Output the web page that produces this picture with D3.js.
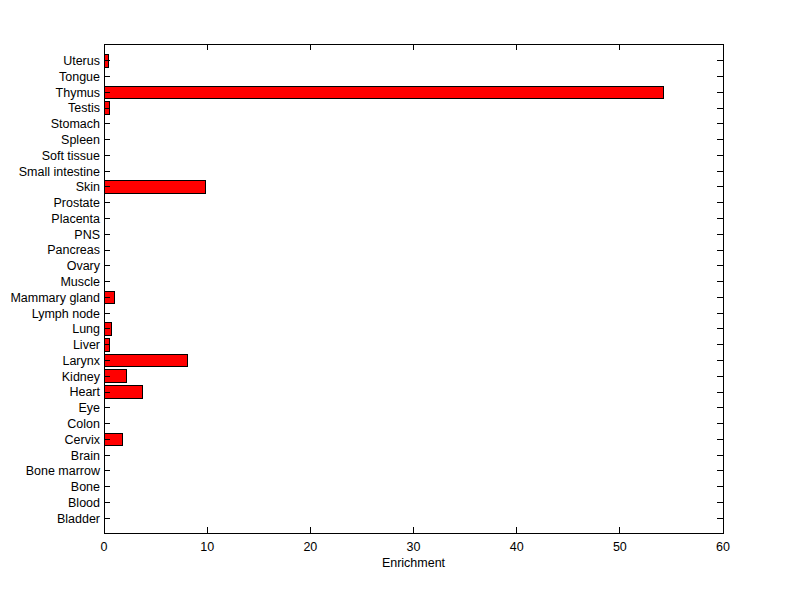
<!DOCTYPE html>
<html>
<head>
<meta charset="utf-8">
<script src="https://cdn.jsdelivr.net/npm/d3@7.9.0/dist/d3.min.js"></script>
<style>
  body { margin: 0; background: #fff; }
  text { font-family: Arial, "Liberation Sans", sans-serif; font-size: 12.5px; fill: #000; }
  line, rect { shape-rendering: crispEdges; }
</style>
</head>
<body>
<svg width="800" height="599"></svg>
<script>
// tissues, bottom to top
const tissues = ["Bladder", "Blood", "Bone", "Bone marrow", "Brain", "Cervix", "Colon", "Eye",
  "Heart", "Kidney", "Larynx", "Liver", "Lung", "Lymph node", "Mammary gland", "Muscle",
  "Ovary", "Pancreas", "PNS", "Placenta", "Prostate", "Skin", "Small intestine", "Soft tissue",
  "Spleen", "Stomach", "Testis", "Thymus", "Tongue", "Uterus"];
const enrichment = [0, 0, 0, 0, 0, 1.77, 0, 0,
  3.74, 2.16, 8.06, 0.5, 0.7, 0, 1.0, 0,
  0, 0, 0, 0, 0, 9.87, 0, 0,
  0, 0, 0.5, 54.2, 0, 0.42];
const xTicks = [0, 10, 20, 30, 40, 50, 60];

const mLeft = 104, mRight = 723, mTop = 44, mBottom = 533;
const svg = d3.select("svg");

const x = d3.scaleLinear().domain([0, 60]).range([mLeft, mRight]);
const y = d3.scaleLinear().domain([0, tissues.length + 1]).range([mBottom, mTop]);
const barH = (y(0) - y(0.8));

// bars
svg.selectAll("rect.bar")
  .data(enrichment)
  .join("rect")
  .attr("class", "bar")
  .attr("x", x(0))
  .attr("y", (d, i) => y(i + 1) - barH / 2 + 1)
  .attr("width", d => x(d) - x(0))
  .attr("height", barH)
  .attr("fill", d => d > 0 ? "#ff0000" : "none")
  .attr("stroke", d => d > 0 ? "#000" : "none")
  .attr("stroke-width", 1);

// box
svg.append("rect")
  .attr("x", mLeft).attr("y", mTop)
  .attr("width", mRight - mLeft).attr("height", mBottom - mTop)
  .attr("fill", "none").attr("stroke", "#000").attr("stroke-width", 1);

const tl = 6;
// x ticks (bottom and top, inward)
xTicks.forEach(t => {
  svg.append("line").attr("x1", x(t)).attr("x2", x(t)).attr("y1", mBottom).attr("y2", mBottom - tl).attr("stroke", "#000");
  svg.append("line").attr("x1", x(t)).attr("x2", x(t)).attr("y1", mTop).attr("y2", mTop + tl).attr("stroke", "#000");
  svg.append("text").attr("x", x(t)).attr("y", mBottom + 18).attr("text-anchor", "middle").text(t);
});

// y ticks (left and right, inward)
tissues.forEach((name, i) => {
  const yy = y(i + 1) + 1;
  svg.append("line").attr("x1", mLeft).attr("x2", mLeft + tl).attr("y1", yy).attr("y2", yy).attr("stroke", "#000");
  svg.append("line").attr("x1", mRight).attr("x2", mRight - tl).attr("y1", yy).attr("y2", yy).attr("stroke", "#000");
  svg.append("text").attr("x", mLeft - 4).attr("y", yy).attr("dy", "0.35em")
    .attr("text-anchor", "end").text(name);
});

svg.append("text").attr("x", (mLeft + mRight) / 2).attr("y", mBottom + 34)
  .attr("text-anchor", "middle").text("Enrichment");
</script>
</body>
</html>
